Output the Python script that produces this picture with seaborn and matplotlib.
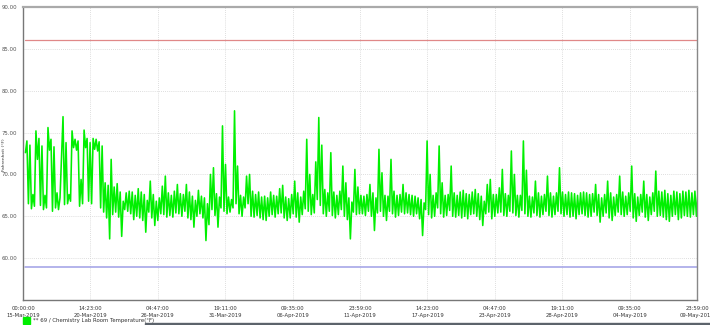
import numpy as np
import pandas as pd
import matplotlib
matplotlib.use("Agg")
import matplotlib.pyplot as plt
import seaborn as sns
from matplotlib.patches import Rectangle

# ---- data ----
series_name = "** 69 / Chemistry Lab Room Temperature(\u00b0F)"
y_label = "Fahrenheit (\u00b0F)"
start_day = 0.2      # days after 15-Mar-2019 00:00 of first reading
step_day = 0.25      # spacing of the readings (days)

low = [
    72.6, 66.5, 65.9, 66.2, 71.8, 66.3, 65.8, 66.0, 72.9, 65.6, 66.0, 65.8, 72.0, 66.4, 66.5, 66.8,
    73.2, 72.9, 66.2, 66.5, 73.2, 66.8, 66.5, 73.0, 72.8, 66.0, 65.5, 64.8, 62.3, 65.2, 65.5, 64.9,
    62.6, 65.8, 65.6, 65.3, 64.6,
    65.0, 64.8, 64.5, 63.1, 65.5, 64.8, 63.9, 64.5, 65.3, 65.2, 64.9, 65.1, 64.9, 65.4, 65.3, 65.0,
    65.6, 64.8, 64.6, 63.7, 65.0, 65.3, 64.8, 62.1, 64.0, 65.8, 65.1, 63.7, 66.0, 65.6, 65.3, 65.5,
    66.0, 66.5, 65.3, 65.0, 66.0,
    66.5, 65.0, 64.9, 65.1, 64.8, 64.6, 64.5, 65.0, 65.2, 64.9, 65.3, 65.4, 64.8, 64.5, 64.8, 65.3,
    64.9, 64.3, 65.2, 65.9, 65.6, 65.2, 65.4, 67.0, 66.3, 65.3, 65.0, 65.6, 65.1, 64.8, 65.2, 65.8,
    65.0, 64.6, 62.3, 65.5, 65.2, 65.3,
    65.3, 65.1, 65.6, 65.0, 63.3, 65.4, 65.6, 65.0, 64.5, 65.6, 65.3, 64.9, 65.1, 65.5, 65.3, 65.4,
    65.2, 65.0, 65.3, 64.7, 62.7, 65.8, 65.2, 64.8, 65.0, 66.0, 65.3, 64.9, 65.1, 65.7, 65.0, 64.9,
    65.1, 64.8, 65.0, 64.7, 65.2,
    65.3, 65.0, 64.6, 63.9, 65.3, 65.5, 64.7, 65.0, 65.4, 65.5, 65.1, 65.0, 65.6, 65.4, 65.1, 64.9,
    65.7, 65.3, 65.0, 64.9, 65.4, 65.1, 64.9, 65.2, 65.6, 65.1, 64.9, 65.2, 65.6, 65.3, 65.0, 65.2,
    64.9, 65.0, 64.7, 65.2, 65.3,
    65.1, 64.9, 65.0, 65.5, 65.1, 64.3, 65.0, 65.4, 64.8, 64.5, 65.1, 65.5, 65.2, 65.0, 65.2, 65.6,
    64.8, 64.4, 65.1, 65.5, 64.9, 64.5, 65.2, 65.6, 65.0, 65.1, 64.9, 64.6, 64.4, 65.0, 65.2, 64.6,
    64.8, 65.1, 65.0, 64.9, 65.2, 65.0,
]
high = [
    74.0, 73.5, 67.6, 75.2, 74.3, 73.4, 67.5, 75.6, 74.2, 73.3, 67.8, 67.2, 76.9, 73.8, 67.6, 75.2,
    74.2, 74.0, 69.4, 75.3, 74.3, 73.8, 74.3, 74.2, 73.9, 73.4, 69.0, 68.7, 71.8, 68.5, 68.9, 67.9,
    66.8, 67.8, 68.0, 67.9, 67.5,
    68.3, 67.9, 67.6, 66.9, 69.2, 67.6, 66.8, 67.2, 68.6, 69.8, 67.8, 67.5, 68.0, 68.8, 67.7, 67.6,
    68.8, 67.9, 67.4, 66.9, 68.1, 67.4, 67.2, 66.5, 70.0, 70.8, 67.7, 67.3, 75.8, 71.2, 67.3, 67.0,
    77.6, 71.0, 67.5, 67.3, 69.8,
    70.0, 68.0, 67.6, 67.9, 67.3, 67.4, 67.2, 67.9, 67.5, 67.4, 68.3, 68.7, 67.3, 67.1, 67.6, 69.2,
    67.8, 67.3, 68.0, 74.2, 70.0, 67.6, 71.5, 76.8, 73.5, 68.2, 67.8, 72.6, 67.9, 67.5, 68.0, 71.0,
    69.0, 67.2, 66.7, 70.6, 68.5, 67.5,
    67.4, 67.6, 68.8, 67.8, 67.2, 73.0, 70.2, 67.5, 67.4, 71.8, 68.0, 67.5, 67.6, 68.8, 67.8, 67.6,
    67.5, 67.4, 67.2, 67.0, 66.6, 74.0, 70.0, 67.5, 67.8, 73.4, 69.0, 67.5, 67.6, 71.0, 67.8, 67.5,
    67.9, 68.1, 67.7, 67.6, 67.9,
    68.2, 67.7, 67.4, 66.8, 68.8, 69.4, 67.6, 67.6, 68.4, 70.6, 67.7, 67.5, 72.8, 70.0, 67.5, 67.5,
    74.0, 70.5, 67.4, 67.3, 69.2, 67.8, 67.4, 67.6, 69.8, 67.8, 67.4, 67.8, 70.8, 67.9, 67.6, 67.9,
    67.8, 67.7, 67.5, 67.8, 67.9,
    67.8, 67.6, 67.7, 68.8, 67.6, 67.2, 67.6, 69.2, 67.8, 67.3, 67.6, 69.8, 67.9, 67.4, 67.8, 71.0,
    67.7, 67.3, 67.6, 69.2, 67.6, 67.3, 67.8, 70.4, 68.0, 67.9, 68.1, 67.7, 67.5, 68.0, 67.9, 67.7,
    68.0, 67.9, 68.1, 67.8, 68.0, 67.9,
]
upper_limit = 86.0
lower_limit = 59.0
total_days = 55 + 23 / 24 + 59 / 1440   # 15-Mar-2019 00:00 -> 09-May-2019 23:59
tick_labels = [
    "00:00:00\n15-Mar-2019", "14:23:00\n20-Mar-2019", "04:47:00\n26-Mar-2019",
    "19:11:00\n31-Mar-2019", "09:35:00\n06-Apr-2019", "23:59:00\n11-Apr-2019",
    "14:23:00\n17-Apr-2019", "04:47:00\n23-Apr-2019", "19:11:00\n28-Apr-2019",
    "09:35:00\n04-May-2019", "23:59:00\n09-May-2019",
]
y_ticks = [60, 65, 70, 75, 80, 85, 90]

# ---- build the interleaved reading series ----
n = min(len(low), len(high))
t_lo = start_day + np.arange(n) * step_day
t_hi = t_lo + step_day / 2
times = np.empty(2 * n)
temps = np.empty(2 * n)
times[0::2] = t_lo
times[1::2] = t_hi
temps[0::2] = low[:n]
temps[1::2] = high[:n]
df = pd.DataFrame({"day": times, "temp": temps})

# ---- figure ----
sns.set_style("white")
plt.rcParams["font.family"] = ["DejaVu Sans"]
fig = plt.figure(figsize=(7.1, 3.25), dpi=100)
ax = fig.add_axes([23 / 710, 25 / 325, 674 / 710, 293 / 325])

sns.lineplot(data=df, x="day", y="temp", ax=ax, color="#00f000", lw=1.15,
             estimator=None, sort=False, legend=False)

line_x = [start_day, total_days]
sns.lineplot(x=line_x, y=[upper_limit] * 2, ax=ax, color="#e08888", lw=0.9, legend=False)
sns.lineplot(x=line_x, y=[lower_limit] * 2, ax=ax, color="#9f9fe6", lw=1.1, legend=False)

ax.set_xlim(0, total_days)
ax.set_ylim(55, 90)
xt = np.linspace(0, total_days, len(tick_labels))
ax.set_xticks(xt)
ax.set_xticklabels(tick_labels, fontsize=3.8, color="#333333", linespacing=1.5)
ax.set_yticks(y_ticks)
ax.set_yticklabels([f"{v:.2f}" for v in y_ticks], fontsize=3.9, color="#555555")
ax.tick_params(axis="both", length=2.5, width=0.6, color="#777777", pad=1.5)
ax.grid(True, color="#d4d4d4", lw=0.6, linestyle=(0, (1, 1.5)))
ax.set_xlabel("")
ax.set_ylabel(y_label, fontsize=3.2, color="#333333")
ax.yaxis.set_label_coords(-17.5 / 674, 0.495)
for side in ["left", "bottom"]:
    ax.spines[side].set_color("#777777")
    ax.spines[side].set_linewidth(1.0)
ax.spines["top"].set_color("#aaaaaa")
ax.spines["top"].set_linewidth(1.6)
ax.spines["right"].set_color("#888888")
ax.spines["right"].set_linewidth(1.0)

# legend
fig.patches.append(Rectangle((23 / 710, 1 - 324 / 325), 7 / 710, 7 / 325,
                             transform=fig.transFigure, color="#00ee00"))
fig.text(33 / 710, 1 - 320.5 / 325, series_name, fontsize=3.9, color="#333333", va="center")
fig.patches.append(Rectangle((145 / 710, 0), 565 / 710, 2.5 / 325,
                             transform=fig.transFigure, color="#5c636b"))

fig.savefig("out.png", dpi=100)
